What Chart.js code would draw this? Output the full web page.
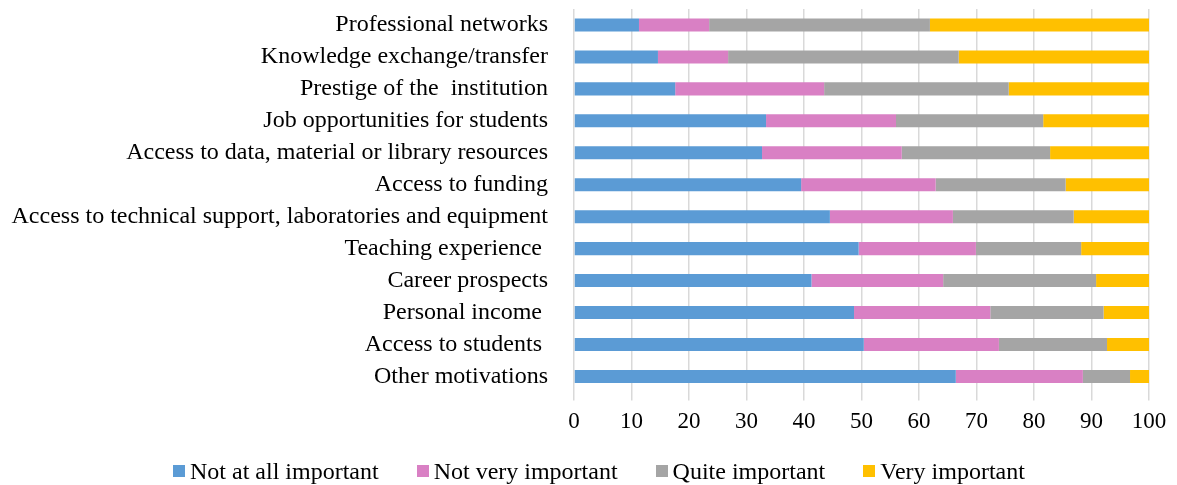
<!DOCTYPE html>
<html>
<head>
<meta charset="utf-8">
<script src="https://cdn.jsdelivr.net/npm/chart.js@4"></script>
<style>
  html, body { margin: 0; padding: 0; background: #fff; }
  #wrap { position: relative; width: 1177px; height: 485px; }
  #legend {
    position: absolute; left: 173px; top: 457px;
    display: flex; gap: 38px;
    font: 24px 'Liberation Serif', 'Times New Roman', serif; color: #000;
    line-height: 28px;
  }
  #legend span.item { display: inline-flex; align-items: center; white-space: pre; }
  #legend i { display: inline-block; width: 12px; height: 12px; margin-right: 5px; }
</style>
</head>
<body>
<div id="wrap">
  <canvas id="chart"></canvas>
  <div id="legend"></div>
</div>
<script>
  const categories = [
    "Professional networks",
    "Knowledge exchange/transfer",
    "Prestige of the  institution",
    "Job opportunities for students",
    "Access to data, material or library resources",
    "Access to funding",
    "Access to technical support, laboratories and equipment",
    "Teaching experience ",
    "Career prospects",
    "Personal income ",
    "Access to students ",
    "Other motivations",
  ];

  const notAtAll = [11.3, 14.6, 17.6, 33.4, 32.7, 39.5, 44.5, 49.5, 41.3, 48.7, 50.4, 66.4];
  const notVery = [12.2, 12.2, 25.9, 22.6, 24.3, 23.4, 21.4, 20.4, 22.9, 23.7, 23.5, 22.1];
  const quite = [38.4, 40.1, 32.1, 25.6, 25.8, 22.6, 21.0, 18.3, 26.6, 19.7, 18.8, 8.2];
  const very = [38.1, 33.1, 24.4, 18.4, 17.2, 14.5, 13.1, 11.8, 9.2, 7.9, 7.3, 3.3];

  const seriesNames = ["Not at all important", "Not very important", "Quite important", "Very important"];
  const seriesColors = ["#5b9bd5", "#d980c4", "#a5a5a5", "#ffc000"];

  const serif = "'Liberation Serif', 'Times New Roman', serif";
  Chart.defaults.font.family = serif;
  Chart.defaults.color = "#000";

  const datasets = [notAtAll, notVery, quite, very].map((data, i) => ({
    label: seriesNames[i],
    data,
    backgroundColor: seriesColors[i],
    borderWidth: 0,
    barPercentage: 0.41,
    categoryPercentage: 1,
  }));

  const chart = new Chart(document.getElementById("chart"), {
    type: "bar",
    data: { labels: categories, datasets },
    options: {
      indexAxis: "y",
      responsive: true,
      maintainAspectRatio: false,
      animation: false,
      layout: { padding: { left: 10, right: 28, top: 9, bottom: 41 } },
      plugins: {
        tooltip: { enabled: false },
        legend: { display: false },
      },
      scales: {
        x: {
          stacked: true,
          min: 0,
          max: 100,
          ticks: { stepSize: 10, padding: 8, font: { size: 23 }, color: "#000", maxRotation: 0 },
          grid: { color: "#d9d9d9", lineWidth: 1.5, tickLength: 8, drawTicks: true },
          border: { display: false },
        },
        y: {
          stacked: true,
          ticks: { padding: 26, font: { size: 24 }, color: "#000", autoSkip: false },
          grid: { display: false, drawTicks: false },
          border: { display: false },
          // fixed width so the plot starts where the original's does;
          // tick padding otherwise also pushes the plot down from the top
          afterFit: (scale) => {
            scale.width = 564;
            scale.paddingTop = 0;
            scale.paddingBottom = 0;
          },
        },
      },
    },
  });

  // legend drawn as html so box/text spacing can match the original
  document.getElementById("legend").innerHTML = chart.data.datasets
    .map((d) => `<span class="item"><i style="background:${d.backgroundColor}"></i>${d.label}</span>`)
    .join("");
</script>
</body>
</html>
